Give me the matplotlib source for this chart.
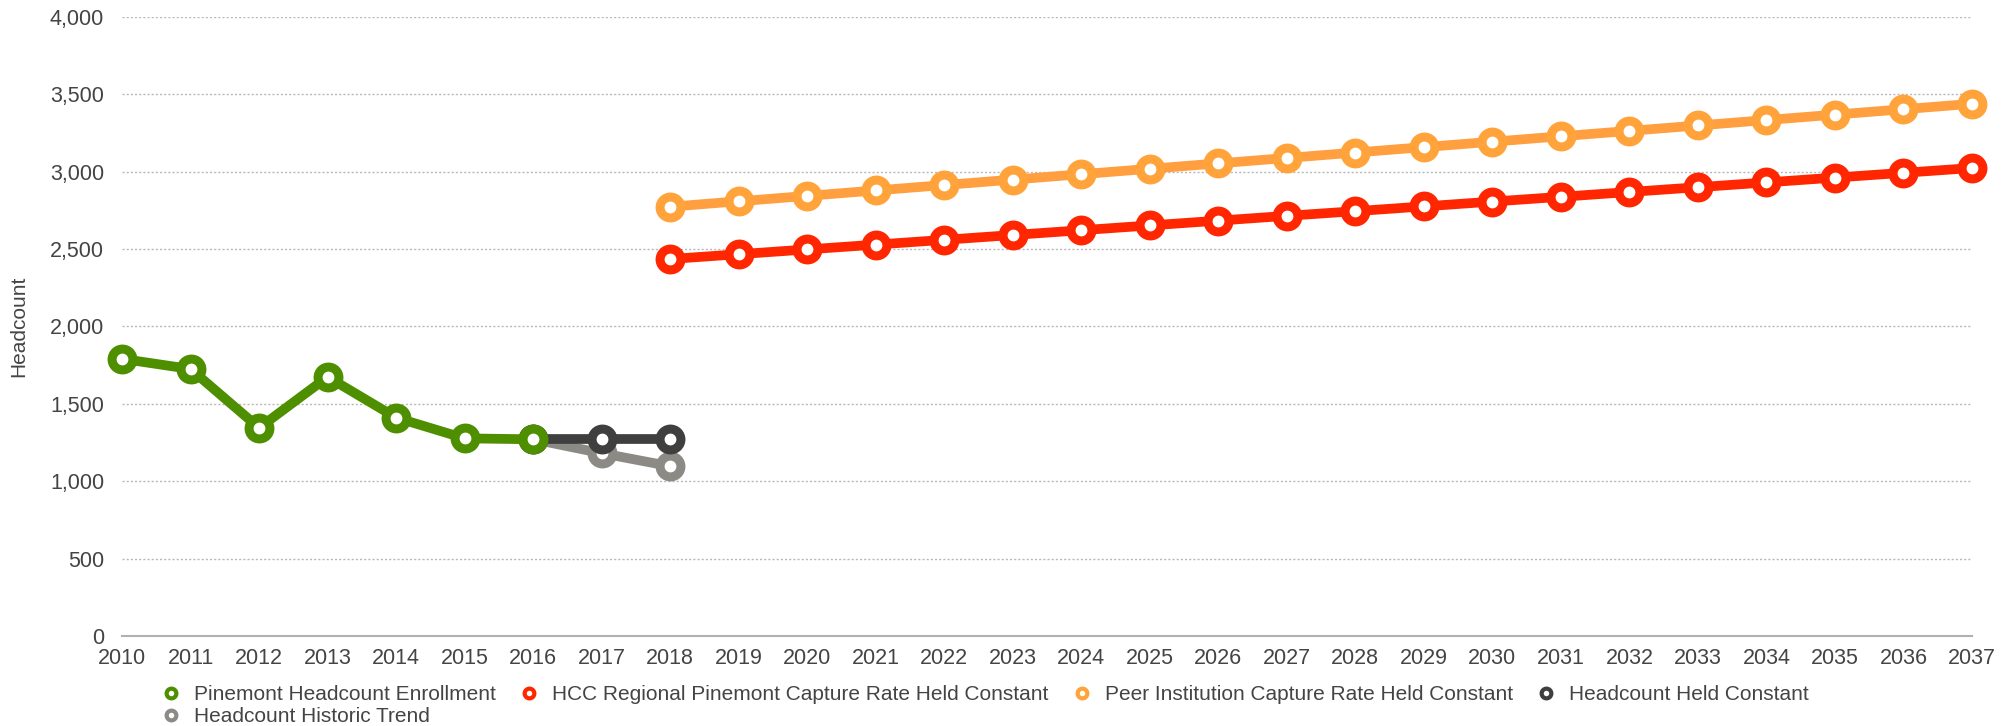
import matplotlib.pyplot as plt
from matplotlib.ticker import FuncFormatter

plt.rcParams['font.family'] = ['Liberation Sans', 'DejaVu Sans']

# Actual enrollment 2010-2016
years_hist = [2010, 2011, 2012, 2013, 2014, 2015, 2016]
pinemont = [1791, 1725, 1345, 1674, 1411, 1277, 1271]

# Short-term scenarios 2016-2018
years_short = [2016, 2017, 2018]
held_constant = [1271, 1271, 1271]
historic_trend = [1271, 1181, 1097]

# Long-range projections 2018-2037
years_proj = list(range(2018, 2038))
hcc_regional = [2436, 2467, 2498, 2529, 2560, 2591, 2622, 2653, 2684, 2715,
                2745, 2776, 2807, 2838, 2869, 2900, 2931, 2962, 2993, 3024]
peer_institution = [2774, 2809, 2844, 2879, 2914, 2949, 2984, 3019, 3054, 3089,
                    3124, 3159, 3194, 3229, 3264, 3299, 3334, 3369, 3404, 3439]

GREEN = '#4e8f00'
RED = '#ff2600'
ORANGE = '#ffa33a'
DARK = '#3f3f3f'
GRAY = '#8c8a85'
TEXT = '#444444'

fig = plt.figure(figsize=(20.11, 7.26), dpi=100)
ax = fig.add_axes([0.0607, 0.124, 0.9199, 0.8526])

# Thick lines with hollow ring markers; end points drawn past the axes edge
style = dict(lw=7, marker='o', ms=15, mew=6.5, mfc='white', clip_on=False,
             solid_joinstyle='round', solid_capstyle='round')

ax.plot(years_short, historic_trend, color=GRAY, zorder=3, **style)
ax.plot(years_short, held_constant, color=DARK, zorder=4, **style)
ax.plot(years_hist, pinemont, color=GREEN, zorder=5, **style)
ax.plot(years_proj, hcc_regional, color=RED, zorder=3, **style)
l_peer, = ax.plot(years_proj, peer_institution, color='#ff9f40', zorder=3, **style)
l_peer.set_markeredgecolor(ORANGE)

ax.set_xlim(2010, 2037)
ax.set_ylim(0, 4000)
ax.set_xticks(range(2010, 2038))
ax.set_yticks(range(0, 4001, 500))
ax.yaxis.set_major_formatter(FuncFormatter(lambda v, p: f'{int(v):,}'))
ax.tick_params(axis='both', length=0, labelsize=15.5, colors=TEXT)
ax.tick_params(axis='x', pad=9)
ax.tick_params(axis='y', pad=13)
ax.set_ylabel('Headcount', fontsize=15, color=TEXT)
ax.yaxis.set_label_coords(-0.0505, 0.5)

ax.grid(axis='y', linestyle=(0, (1.5, 1.5)), color='#b8b8b8', lw=1)
for s in ['top', 'right', 'left']:
    ax.spines[s].set_visible(False)
ax.spines['bottom'].set_color('#b0b0b0')
ax.spines['bottom'].set_linewidth(1.5)
ax.set_axisbelow(True)

# Legend markers: small hollow rings with no line
def ring(color):
    return plt.Line2D([], [], ls='none', marker='o', ms=7, mew=3,
                      mfc='white', mec=color)

handles = [ring(GREEN), ring(GRAY), ring(RED), ring(ORANGE), ring(DARK)]
labels = ['Pinemont Headcount Enrollment', 'Headcount Historic Trend',
          'HCC Regional Pinemont Capture Rate Held Constant',
          'Peer Institution Capture Rate Held Constant',
          'Headcount Held Constant']
fig.legend(handles, labels, ncol=4, loc='upper left',
           bbox_to_anchor=(0.080, 0.056), frameon=False, fontsize=15,
           labelcolor=TEXT, handlelength=1.0, handletextpad=0.6,
           columnspacing=1.1, labelspacing=0.15, borderpad=0, borderaxespad=0)

fig.savefig('out.png', dpi=100, facecolor='white')
